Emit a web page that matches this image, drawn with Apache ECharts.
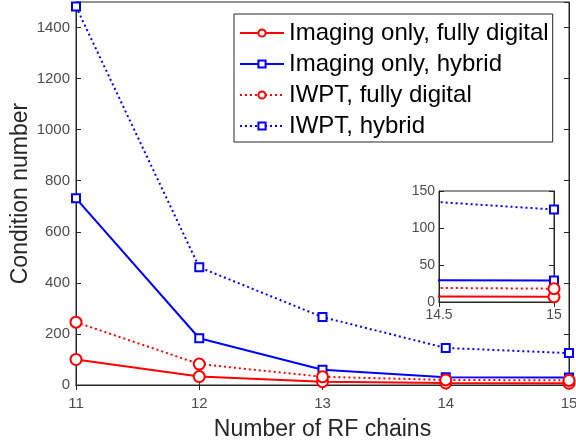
<!DOCTYPE html>
<html><head><meta charset="utf-8">
<script src="https://cdn.jsdelivr.net/npm/echarts@6/dist/echarts.min.js"></script>
<style>html,body{margin:0;padding:0;background:#fff}#c{width:576px;height:446px}</style>
</head><body><div id="c"></div>
<script>
const rfChains = [11, 12, 13, 14, 15];
const imgDigital = [100, 33, 13, 8, 7];
const imgHybrid = [731, 183, 60, 30, 29];
const iwptDigital = [246, 82, 32, 20, 18];
const iwptHybrid = [1482, 461, 266, 145, 125];
const seriesNames = ['Imaging only, fully digital', 'Imaging only, hybrid', 'IWPT, fully digital', 'IWPT, hybrid'];
const yTicks = [0, 200, 400, 600, 800, 1000, 1200, 1400];

const RED = '#ff0000', BLUE = '#0000ff', AX = '#262626', LBL = '#4d4d4d';
const FONT = '"Liberation Sans", Arial, sans-serif';
const defs = [
  {name: seriesNames[0], data: imgDigital, color: RED, sym: 'circle', size: 11, type: 'solid'},
  {name: seriesNames[1], data: imgHybrid, color: BLUE, sym: 'rect', size: 8, type: 'solid'},
  {name: seriesNames[2], data: iwptDigital, color: RED, sym: 'circle', size: 11, type: [2, 3]},
  {name: seriesNames[3], data: iwptHybrid, color: BLUE, sym: 'rect', size: 8, type: [2, 3]}
];
function mk(d, gi) {
  return {
    name: d.name, type: 'line', xAxisIndex: gi, yAxisIndex: gi,
    data: rfChains.map((x, i) => [x, d.data[i]]),
    symbol: d.sym === 'circle' ? 'emptyCircle' : 'emptyRect', symbolSize: d.size,
    showAllSymbol: true, clip: true,
    lineStyle: {color: d.color, width: 2, type: d.type},
    itemStyle: {color: d.color, borderColor: d.color, borderWidth: 2},
    emphasis: {disabled: true}, animation: false, z: gi ? 7 : 3
  };
}
const series = defs.map(d => mk(d, 0)).concat(defs.map(d => mk(d, 1)));

const axCommon = {
  axisLine: {show: true, lineStyle: {color: AX, width: 1}},
  axisTick: {show: true, inside: true, length: 5, lineStyle: {color: AX}},
  splitLine: {show: false}
};
function mirror(base, pos) {
  return Object.assign({}, axCommon, {type: 'value', gridIndex: base.gridIndex, min: base.min, max: base.max,
    interval: base.interval, position: pos, axisLabel: {show: false}, z: base.z || 2});
}
const x0 = Object.assign({}, axCommon, {type: 'value', gridIndex: 0, min: 11, max: 15, interval: 1,
  name: 'Number of RF chains', nameLocation: 'middle', nameGap: 33, nameMoveOverlap: false,
  nameTextStyle: {fontFamily: FONT, fontSize: 23, color: AX},
  axisLabel: {fontFamily: FONT, fontSize: 15, color: LBL, margin: 11}});
const x1 = Object.assign({}, axCommon, {type: 'value', gridIndex: 1, min: 14.5, max: 15, interval: 0.5,
  axisLabel: {fontFamily: FONT, fontSize: 14, color: LBL, margin: 6}, z: 6});
const y0 = Object.assign({}, axCommon, {type: 'value', gridIndex: 0, min: 0, max: 1500, interval: 200,
  name: 'Condition number', nameLocation: 'middle', nameGap: 44, nameMoveOverlap: false,
  nameTextStyle: {fontFamily: FONT, fontSize: 23, color: AX},
  axisLabel: {fontFamily: FONT, fontSize: 15, color: LBL, margin: 6,
    formatter: v => yTicks.indexOf(v) >= 0 ? String(v) : ''}});
const y1 = Object.assign({}, axCommon, {type: 'value', gridIndex: 1, min: 0, max: 150, interval: 50,
  axisLabel: {fontFamily: FONT, fontSize: 14, color: LBL, margin: 4}, z: 6});

const chart = echarts.init(document.getElementById('c'));
chart.setOption({
  animation: false,
  backgroundColor: '#fff',
  grid: [
    {left: 76, right: 7, top: 2, bottom: 61, show: true, borderColor: AX, borderWidth: 1,
      backgroundColor: 'transparent', outerBoundsMode: 'none', containLabel: false},
    {left: 439, top: 191, width: 115, height: 111, show: true, borderColor: AX, borderWidth: 1,
      backgroundColor: '#fff', z: 5, outerBoundsMode: 'none', containLabel: false}
  ],
  legend: {
    data: seriesNames, orient: 'vertical', left: 234, top: 14,
    padding: [7, 4, 4, 5], itemGap: 7, itemWidth: 44, itemHeight: 9,
    backgroundColor: '#fff', borderColor: AX, borderWidth: 1,
    textStyle: {fontFamily: FONT, fontSize: 24, color: '#000'}, z: 10,
    selectedMode: false
  },
  xAxis: [x0, x1, mirror(x0, 'top'), mirror(x1, 'top')],
  yAxis: [y0, y1, mirror(y0, 'right'), mirror(y1, 'right')],
  series: series
});
</script></body></html>
